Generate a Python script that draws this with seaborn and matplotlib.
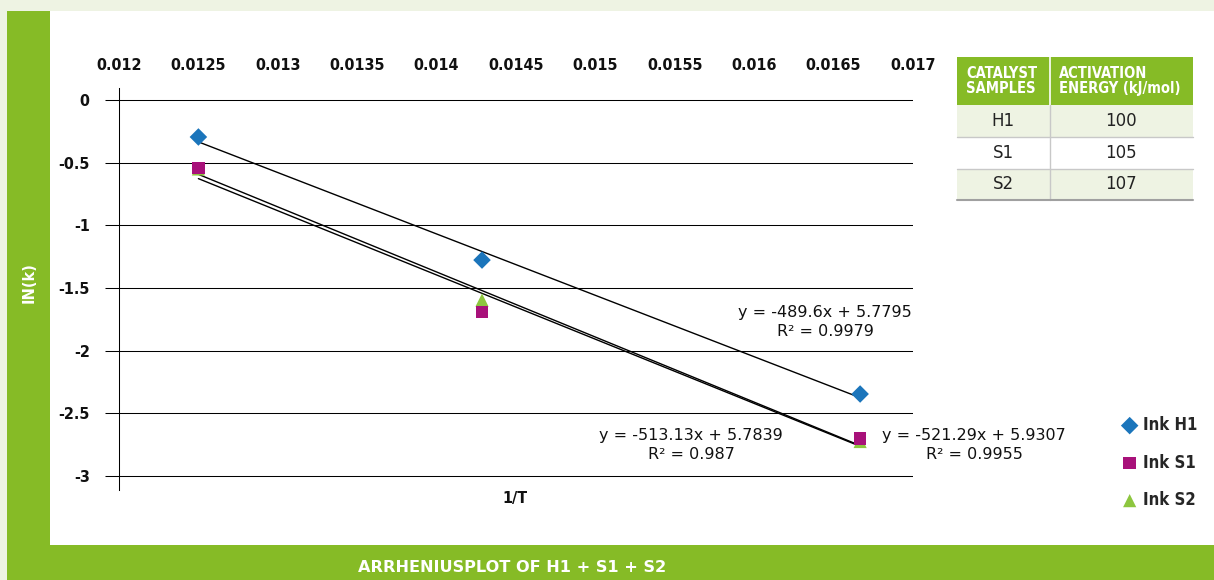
import matplotlib
matplotlib.use("Agg")
import matplotlib.pyplot as plt
from matplotlib.patches import Rectangle
from matplotlib.lines import Line2D
import seaborn as sns
import numpy as np
import pandas as pd

# ---------------- data ----------------
inv_T = [0.0125, 0.014286, 0.016667]
ln_k_H1 = [-0.295, -1.277, -2.346]
ln_k_S1 = [-0.543, -1.690, -2.700]
ln_k_S2 = [-0.550, -1.596, -2.725]
series_names = ["Ink H1", "Ink S1", "Ink S2"]
eq_texts = ["y = -489.6x + 5.7795\nR² = 0.9979",
            "y = -513.13x + 5.7839\nR² = 0.987",
            "y = -521.29x + 5.9307\nR² = 0.9955"]
x_ticks = [0.012, 0.0125, 0.013, 0.0135, 0.014, 0.0145, 0.015, 0.0155, 0.016, 0.0165, 0.017]
x_tick_labels = ["0.012", "0.0125", "0.013", "0.0135", "0.014", "0.0145", "0.015", "0.0155", "0.016", "0.0165", "0.017"]
y_ticks = [0, -0.5, -1, -1.5, -2, -2.5, -3]
y_tick_labels = ["0", "-0.5", "-1", "-1.5", "-2", "-2.5", "-3"]
table_samples = ["H1", "S1", "S2"]
table_energy = ["100", "105", "107"]

# ---------------- style ----------------
sns.set_theme(style="white")
plt.rcParams['font.family'] = ['DejaVu Sans']
SANS = ['DejaVu Sans']
COND = dict(family=['DejaVu Sans'], stretch='condensed', weight='bold')

GREEN = "#86bb26"
LIGHT = "#eef3e3"
BLUE = "#1b75bb"
MAGENTA = "#a8117a"
LGREEN = "#8dc63f"

W, H = 1214, 580
fig = plt.figure(figsize=(W / 100, H / 100), dpi=100)
fig.patch.set_facecolor(LIGHT)


def fx(x):
    return x / W


def fy(y):
    return 1 - y / H


def rect(x0, y0, x1, y1, color, z=0):
    fig.add_artist(Rectangle((fx(x0), fy(y1)), fx(x1) - fx(x0), fy(y0) - fy(y1),
                             transform=fig.transFigure, facecolor=color,
                             edgecolor="none", zorder=z))


def hline(x0, x1, y, color, lw=1.0, z=2):
    fig.add_artist(Line2D([fx(x0), fx(x1)], [fy(y), fy(y)], transform=fig.transFigure,
                          color=color, lw=lw, zorder=z))


def vline(x, y0, y1, color, lw=1.0, z=2):
    fig.add_artist(Line2D([fx(x), fx(x)], [fy(y0), fy(y1)], transform=fig.transFigure,
                          color=color, lw=lw, zorder=z))


# frame
rect(50, 11, W, 545, "white")
rect(7, 11, 50, 580, GREEN)
rect(7, 545, W, 580, GREEN)
fig.text(fx(29), fy(283), "IN(k)", rotation=90, color="white", fontsize=10.5,
         fontweight="bold", family=SANS, ha="center", va="center")
fig.text(fx(358), fy(567), "ARRHENIUSPLOT OF H1 + S1 + S2", color="white",
         fontsize=11.6, fontweight="bold", family=SANS, ha="left", va="center")

# ---------------- axes ----------------
ax = fig.add_axes([fx(119), fy(490), fx(913) - fx(119), fy(88) - fy(490)])
ax.set_facecolor("none")
ax.set_xlim(0.012, 0.017)
ax.set_ylim(-3.112, 0.096)

df = pd.DataFrame({"x": inv_T * 3,
                   "y": ln_k_H1 + ln_k_S1 + ln_k_S2,
                   "series": [series_names[0]] * 3 + [series_names[1]] * 3 + [series_names[2]] * 3})

for name in series_names:
    sub = df[df["series"] == name]
    sns.regplot(data=sub, x="x", y="y", scatter=False, ci=None, ax=ax,
                line_kws=dict(color="black", lw=1.0, zorder=3))
for name, mk, col, sz in [(series_names[0], "D", BLUE, 80),
                          (series_names[2], "^", LGREEN, 90),
                          (series_names[1], "s", MAGENTA, 80)]:
    sub = df[df["series"] == name]
    sns.scatterplot(data=sub, x="x", y="y", marker=mk, color=col, s=sz,
                    edgecolor="none", ax=ax, zorder=4, label=name)

ax.set_yticks(y_ticks)
ax.set_yticklabels(y_tick_labels)
ax.set_xticks(x_ticks)
ax.set_xticklabels(x_tick_labels)
ax.xaxis.tick_top()
ax.tick_params(axis="x", length=0, pad=11, labelsize=11.5)
ax.tick_params(axis="y", length=10, width=0.75, color="black", direction="out",
               pad=11, labelsize=11.5, left=True)
for lab in ax.get_xticklabels() + ax.get_yticklabels():
    lab.set_fontweight("bold")
    lab.set_fontstretch("condensed")
    lab.set_color("#111111")
ax.grid(axis="y", color="black", lw=0.75)
ax.grid(axis="x", visible=False)
for s in ["top", "right", "bottom"]:
    ax.spines[s].set_visible(False)
ax.spines["left"].set_color("black")
ax.spines["left"].set_linewidth(0.75)
ax.set_xlabel("")
ax.set_ylabel("")

fig.text(fx(515), fy(498), "1/T", fontsize=11.5, ha="center", va="center",
         color="#111111", **COND)

# equations
eq_pos = [(825, 322), (691, 445), (974, 445)]
for t, (px, py) in zip(eq_texts, eq_pos):
    fig.text(fx(px), fy(py), t, fontsize=11.5, family=SANS, ha="center", va="center",
             multialignment="center", linespacing=1.4, color="#111111")

# legend
handles, labels = ax.get_legend_handles_labels()
order = [labels.index(n) for n in series_names]
leg = ax.legend([handles[i] for i in order], [labels[i] for i in order],
                loc="upper left", bbox_to_anchor=(fx(1103), fy(401)),
                bbox_transform=fig.transFigure, frameon=False,
                labelspacing=1.17, handletextpad=0.1, handlelength=1.4,
                prop=dict(size=12, **COND))

# ---------------- table ----------------
tx0, tdiv, tx1 = 957, 1050, 1193
rows_y = [57, 105, 137, 169, 200]
rect(tx0, rows_y[0], tx1, rows_y[1], GREEN, z=1)
rect(tx0, rows_y[1], tx1, rows_y[2], LIGHT, z=1)
rect(tx0, rows_y[3], tx1, rows_y[4], LIGHT, z=1)
vline(tdiv, rows_y[0], rows_y[1], "white", lw=1.2)
vline(tdiv, rows_y[1], rows_y[4], "#c8c8c8", lw=1.0)
hline(tx0, tx1, rows_y[2], "#c8c8c8", lw=1.0)
hline(tx0, tx1, rows_y[3], "#c8c8c8", lw=1.0)
hline(tx0, tx1, rows_y[4], "#a0a0a0", lw=1.5)
fig.text(fx(966), fy(81), "CATALYST\nSAMPLES", color="white", fontsize=10.5,
         ha="left", va="center", linespacing=0.95, **COND)
fig.text(fx(1059), fy(81), "ACTIVATION\nENERGY (kJ/mol)", color="white", fontsize=10.5,
         ha="left", va="center", linespacing=0.95, **COND)
for i, (s, e) in enumerate(zip(table_samples, table_energy)):
    yc = (rows_y[i + 1] + rows_y[i + 2]) / 2
    fig.text(fx(1003), fy(yc), s, fontsize=12, family=SANS, ha="center", va="center",
             color="#222222")
    fig.text(fx(1121), fy(yc), e, fontsize=12, family=SANS, ha="center", va="center",
             color="#222222")

fig.savefig("out.png", dpi=100, facecolor=fig.get_facecolor())
